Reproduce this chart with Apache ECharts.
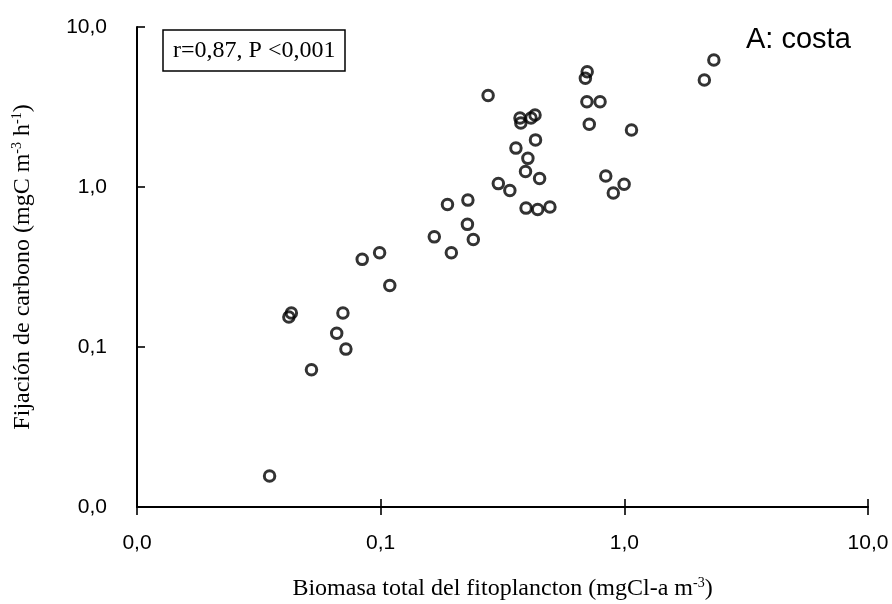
<!DOCTYPE html>
<html>
<head>
<meta charset="utf-8">
<title>Fijación de carbono vs biomasa</title>
<script src="https://cdn.jsdelivr.net/npm/echarts@6/dist/echarts.min.js"></script>
<style>
  html, body { margin: 0; padding: 0; background: #fff; }
  #chart { width: 892px; height: 604px; }
</style>
</head>
<body>
<div id="chart"></div>
<script>
// Biomasa total del fitoplancton (mgCl-a m-3)
const biomasa = [0.043, 0.042, 0.070, 0.066, 0.072, 0.052, 0.035, 0.084, 0.099, 0.109,
                 0.166, 0.188, 0.228, 0.227, 0.240, 0.195, 0.304, 0.276, 0.373, 0.376,
                 0.414, 0.430, 0.432, 0.359, 0.402, 0.393, 0.449, 0.339, 0.395, 0.441,
                 0.495, 0.704, 0.692, 0.702, 0.795, 0.718, 1.07, 0.839, 0.998, 0.901,
                 2.13, 2.33];
// Fijación de carbono (mgC m-3 h-1)
const fijacion = [0.163, 0.154, 0.163, 0.122, 0.097, 0.072, 0.0156, 0.353, 0.388, 0.242,
                  0.488, 0.778, 0.828, 0.584, 0.470, 0.388, 1.05, 3.73, 2.70, 2.51,
                  2.70, 2.82, 1.97, 1.75, 1.51, 1.25, 1.13, 0.952, 0.738, 0.724,
                  0.749, 5.25, 4.78, 3.41, 3.41, 2.47, 2.27, 1.17, 1.04, 0.916,
                  4.66, 6.22];
// Decade ticks shared by both axes
const axisMin = 0.01;
const axisMax = 10;
const panelLabel = 'A: costa';
const statsLabel = 'r=0,87, P <0,001';

const points = biomasa.map((x, i) => [x, fijacion[i]]);
const fmt = v => Number(v).toFixed(1).replace('.', ',');

const sansFont = '"Liberation Sans", Arial, sans-serif';
const serifFont = '"Liberation Serif", "Times New Roman", serif';
const gridRect = { left: 137, right: 24, top: 27, bottom: 97, outerBoundsMode: 'none', containLabel: false };
const supStyle = { fontFamily: serifFont, fontSize: 14, color: '#000', verticalAlign: 'top', padding: [0, 0, 11, 0] };

const chart = echarts.init(document.getElementById('chart'), null, { renderer: 'canvas' });
chart.setOption({
  backgroundColor: '#fff',
  animation: false,
  title: [
    {
      text: panelLabel, left: 746, top: 25, padding: 0,
      textStyle: { fontFamily: sansFont, fontSize: 29, fontWeight: 'normal', color: '#000' }
    },
    {
      text: statsLabel, left: 163, top: 30, padding: [9, 10, 8, 10],
      borderColor: '#000', borderWidth: 1.5,
      textStyle: { fontFamily: serifFont, fontSize: 24, fontWeight: 'normal', color: '#000' }
    }
  ],
  grid: [Object.assign({}, gridRect), Object.assign({}, gridRect)],
  xAxis: [
    {
      type: 'log', logBase: 10, min: axisMin, max: axisMax, gridIndex: 0,
      name: 'Biomasa total del fitoplancton (mgCl-a m{sup|-3})',
      nameLocation: 'middle', nameGap: 69,
      nameTextStyle: {
        fontFamily: serifFont, fontSize: 24, color: '#000', verticalAlign: 'top',
        rich: { sup: supStyle }
      },
      axisLine: { lineStyle: { color: '#000', width: 2 } },
      axisTick: { inside: false, length: 8, lineStyle: { color: '#000', width: 1.6 } },
      axisLabel: { formatter: fmt, fontFamily: sansFont, fontSize: 21, color: '#000', margin: 26 },
      splitLine: { show: false }
    },
    {
      type: 'log', logBase: 10, min: axisMin, max: axisMax, gridIndex: 1,
      axisLine: { show: false },
      axisTick: { inside: true, length: 8, lineStyle: { color: '#000', width: 1.6 } },
      axisLabel: { show: false },
      splitLine: { show: false }
    }
  ],
  yAxis: [
    {
      type: 'log', logBase: 10, min: axisMin, max: axisMax, gridIndex: 0,
      name: 'Fijación de carbono (mgC m{sup|-3} h{sup|-1})',
      nameLocation: 'middle', nameGap: 102, nameRotate: 90,
      nameTextStyle: {
        fontFamily: serifFont, fontSize: 24, color: '#000',
        rich: { sup: supStyle }
      },
      axisLine: { lineStyle: { color: '#000', width: 2 } },
      axisTick: { inside: true, length: 8, lineStyle: { color: '#000', width: 1.6 } },
      axisLabel: { formatter: fmt, fontFamily: sansFont, fontSize: 21, color: '#000', margin: 30 },
      splitLine: { show: false }
    },
    {
      type: 'log', logBase: 10, min: axisMin, max: axisMax, gridIndex: 1, show: false
    }
  ],
  series: [
    {
      type: 'scatter',
      xAxisIndex: 0, yAxisIndex: 0,
      data: points,
      symbol: 'circle',
      symbolSize: 10.5,
      itemStyle: { color: 'rgba(0,0,0,0)', borderColor: '#000', borderWidth: 3 },
      emphasis: { disabled: true }
    }
  ]
});
</script>
</body>
</html>
